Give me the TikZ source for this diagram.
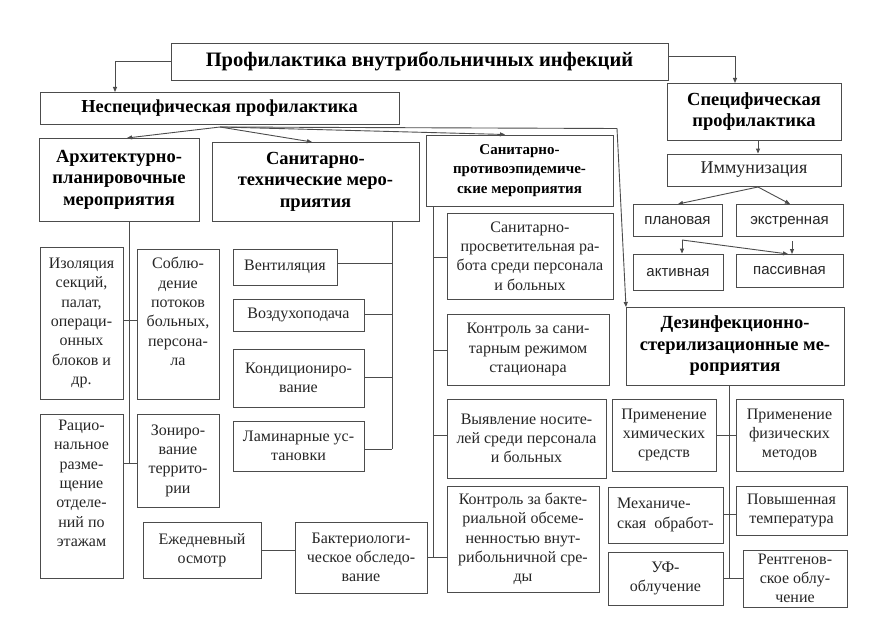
\documentclass[tikz,border=0pt]{standalone}
\usepackage{fontspec}
\setmainfont{Liberation Serif}
\newfontfamily\sansf{Liberation Sans}
\usetikzlibrary{arrows.meta}
\begin{document}
\begin{tikzpicture}[x=1pt,y=-1pt,
  box/.style={draw=black!70, line width=0.9pt, align=center, inner sep=2pt,
    font=\fontsize{16}{19.3}\selectfont, text=black!85},
  hd/.style={box, font=\bfseries\fontsize{18.5}{21.5}\selectfont, text=black},
  hdsm/.style={box, font=\bfseries\fontsize{15}{19.5}\selectfont, text=black},
  sbox/.style={draw=black!70, line width=0.9pt, inner sep=2pt, text=black!85,
    font=\sansf\fontsize{15}{18}\selectfont, text height=11pt, text depth=3pt},
  ln/.style={draw=black!70, line width=0.9pt},
  arr/.style={ln, -{Triangle[length=5pt,width=4pt]}},
  sz/.style 2 args={minimum width=#1pt, minimum height=#2pt}
]
\useasboundingbox (0,0) rectangle (873,642);
\fill[white] (0,0) rectangle (873,642);

% top level
\node[hd, sz={497}{37}, font=\bfseries\fontsize{20.5}{23}\selectfont] (title) at (419.5,61.5) {Профилактика внутрибольничных инфекций};
\node[hd, sz={359}{32}, font=\bfseries\fontsize{18.3}{22}\selectfont] (nonspec) at (219.5,108) {Неспецифическая профилактика};
\node[hd, sz={174}{57}] (spec) at (754,111.5) {Специфическая\\профилактика};
\node[box, sz={174}{32}, font=\fontsize{18}{22}\selectfont] (immun) at (754,170) {Иммунизация};
\node[sbox, sz={89}{32}] (plan) at (677.5,220) {плановая};
\node[sbox, sz={107}{32}] (ekstr) at (789.5,220) {экстренная};
\node[sbox, sz={90}{36}] (aktiv) at (678,272) {активная};
\node[sbox, sz={107}{33}] (passiv) at (789.5,270.5) {пассивная};
\node[hd, sz={218}{78}] (dez) at (735,346) {Дезинфекционно-\\стерилизационные ме-\\роприятия};

% second level
\node[hd, sz={160}{83}] (arch) at (119,179.5) {Архитектурно-\\планировочные\\мероприятия};
\node[hd, sz={207}{79}] (santeh) at (315.5,181.5) {Санитарно-\\технические меро-\\приятия};
\node[hdsm, sz={187}{71}] (sanepid) at (519.5,170.5) {Санитарно-\\противоэпидемиче-\\ские мероприятия};

% architecture
\node[box, sz={83}{152}] (izol) at (81.5,323) {Изоляция\\секций,\\палат,\\операци-\\онных\\блоков и\\др.};
\node[box, sz={82}{150}] (sobl) at (178,324) {Соблю-\\дение\\потоков\\больных,\\персона-\\ла\\[6pt]};
\node[box, sz={83}{164}] (racio) at (81.5,496) {Рацио-\\нальное\\разме-\\щение\\отделе-\\ний по\\этажам\\[6pt]};
\node[box, sz={82}{93}] (zon) at (178,460.5) {Зониро-\\вание\\террито-\\рии};

% sanitary-technical
\node[box, sz={104}{36}] (vent) at (285,267) {Вентиляция};
\node[box, sz={131}{32}] (vozd) at (298.5,315) {Воздухоподача};
\node[box, sz={131}{58}] (kond) at (298.5,378) {Кондициониро-\\вание};
\node[box, sz={131}{50}] (lamin) at (298.5,446) {Ламинарные ус-\\тановки};

% anti-epidemic
\node[box, sz={166}{86}] (prosv) at (530,256) {Санитарно-\\просветительная ра-\\бота среди персонала\\и больных};
\node[box, sz={162}{71}] (kontr1) at (528,349.5) {Контроль за сани-\\тарным режимом\\стационара};
\node[box, sz={159}{79}] (vyyav) at (526.5,438.5) {Выявление носите-\\лей среди персонала\\и больных};
\node[box, sz={152}{106}] (kontr2) at (523,539) {Контроль за бакте-\\риальной обсеме-\\ненностью внут-\\рибольничной сре-\\ды};
\node[box, sz={132}{71}] (bakt) at (361,557.5) {Бактериологи-\\ческое обследо-\\вание};
\node[box, sz={118}{56}] (ezhed) at (202,550) {Ежедневный\\осмотр};

% disinfection
\node[box, sz={104}{72}] (him) at (664,435) {Применение\\химических\\средств};
\node[box, sz={107}{72}] (fiz) at (789.5,435) {Применение\\физических\\методов};
\node[box, sz={115}{56}, align=left] (meh) at (665.5,515) {Механиче-\\ская~~обработ-};
\node[box, sz={111}{49}] (povysh) at (791.5,510.5) {Повышенная\\температура};
\node[box, sz={115}{53}] (uf) at (665.5,578.5) {УФ-\\облучение};
\node[box, sz={104}{57}] (rentg) at (795,578.5) {Рентгенов-\\ское облу-\\чение};

% ---- connectors ----
\coordinate (nsTop) at (115,92);
\coordinate (spTop) at (735,83);
\draw[arr] (title.west) -| (nsTop);
\draw[arr] ([yshift=5.5pt]title.east) -| (spTop);
\draw[arr] ([xshift=4pt]spec.south) -- ([xshift=4pt]immun.north);
\coordinate (ib) at (758,187);
\draw[arr] (ib) -- (678,204);
\draw[arr] (ib) -- (790,204);
\coordinate (pb) at (682,240);
\draw[arr] (pb) -- (aktiv.north -| pb);
\draw[arr] (pb) -- (788,254);
\draw[arr] (792,241) -- (792,254);

\coordinate (nf) at (220,127);
\draw[arr] (nf) -- (127,138);
\draw[arr] (nf) -- (312,142);
\draw[arr] (nf) -- (505,134.5);
\draw[arr] (nf) -- (617,128.5) -- (626,307);

% architecture trunk
\coordinate (t1) at (129,320);
\coordinate (t2) at (129,463);
\draw[ln] (arch.south -| t1) -- (t2);
\draw[ln] (izol.east |- t1) -- (sobl.west |- t1);
\draw[ln] (racio.east |- t2) -- (zon.west |- t2);

% sanitary-technical trunk
\coordinate (s1) at (392,263);
\coordinate (s2) at (392,314);
\coordinate (s3) at (392,377);
\coordinate (s4) at (392,449);
\draw[ln] (santeh.south -| s1) -- (s4);
\draw[ln] (vent.east |- s1) -- (s1);
\draw[ln] (vozd.east |- s2) -- (s2);
\draw[ln] (kond.east |- s3) -- (s3);
\draw[ln] (lamin.east |- s4) -- (s4);

% anti-epidemic trunk
\coordinate (p1) at (433,257);
\coordinate (p2) at (433,350);
\coordinate (p3) at (433,435);
\coordinate (p4) at (433,557);
\draw[ln] (sanepid.south -| p1) -- (p4);
\draw[ln] (p1) -- (prosv.west |- p1);
\draw[ln] (p2) -- (kontr1.west |- p2);
\draw[ln] (p3) -- (vyyav.west |- p3);
\draw[ln] (p4) -- (kontr2.west |- p4);
\draw[ln] (bakt.east |- p4) -- (p4);
\draw[ln] (ezhed.east) -- (bakt.west |- ezhed.east);

% disinfection trunk
\coordinate (d1) at (729,435);
\coordinate (d2) at (729,514);
\coordinate (d3) at (729,578);
\draw[ln] (dez.south -| d1) -- (d3);
\draw[ln] (him.east |- d1) -- (fiz.west |- d1);
\draw[ln] (meh.east |- d2) -- (povysh.west |- d2);
\draw[ln] (uf.east |- d3) -- (rentg.west |- d3);
\end{tikzpicture}
\end{document}
